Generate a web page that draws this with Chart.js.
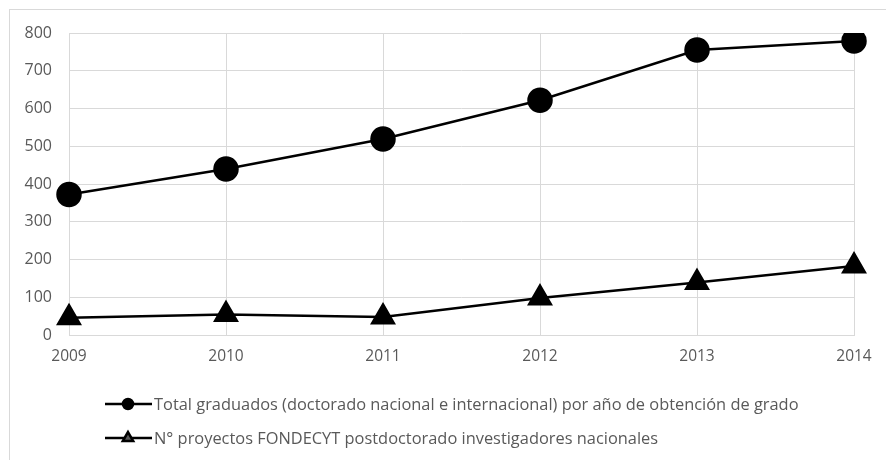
<!DOCTYPE html>
<html>
<head>
<meta charset="utf-8">
<script src="https://cdn.jsdelivr.net/npm/chart.js@4.4.1/dist/chart.umd.min.js"></script>
<style>
  html, body { margin: 0; padding: 0; background: #fff; }
  #wrap { width: 886px; height: 460px; position: relative; }
</style>
</head>
<body>
<div id="wrap"><canvas id="graduadosChart" width="886" height="460"></canvas></div>
<script>
const years = ['2009', '2010', '2011', '2012', '2013', '2014'];
const totalGraduados = [372, 440, 519, 622, 755, 779];
const proyectosFondecyt = [46, 54, 48, 98, 139, 183];
const yTicks = [0, 100, 200, 300, 400, 500, 600, 700, 800];

const labelFont = '"Open Sans", "Noto Sans", sans-serif';

// gray frame around the whole figure
const framePlugin = {
    id: 'frame',
    beforeDraw(chart) {
        const ctx = chart.ctx;
        ctx.save();
        ctx.fillStyle = '#fff';
        ctx.fillRect(0, 0, chart.width, chart.height);
        ctx.strokeStyle = '#d9d9d9';
        ctx.lineWidth = 1;
        ctx.strokeRect(9.5, 9.5, chart.width + 20, chart.height + 20);
        ctx.restore();
    }
};

// legend below the plot, one entry per row
const rowLegend = {
    id: 'rowLegend',
    afterDraw(chart) {
        const ctx = chart.ctx;
        const rows = [404, 438];
        ctx.save();
        chart.data.datasets.forEach((ds, i) => {
            const y = rows[i];
            ctx.strokeStyle = '#000';
            ctx.lineWidth = 2.5;
            ctx.beginPath();
            ctx.moveTo(105, y);
            ctx.lineTo(152, y);
            ctx.stroke();
            Chart.helpers.drawPoint(ctx, {
                pointStyle: ds.pointStyle,
                radius: ds.pointStyle === 'circle' ? 5 : 6,
                borderWidth: 1
            }, 128, y);
            ctx.fillStyle = '#595959';
            ctx.font = '16.4px ' + labelFont;
            ctx.textBaseline = 'middle';
            ctx.textAlign = 'left';
            ctx.fillText(ds.label, 154, y + 1);
        });
        ctx.restore();
    }
};

new Chart(document.getElementById('graduadosChart').getContext('2d'), {
    type: 'line',
    data: {
        labels: years,
        datasets: [
            {
                label: 'Total graduados (doctorado nacional e internacional) por año de obtención de grado',
                data: totalGraduados,
                borderColor: '#000',
                backgroundColor: '#000',
                borderWidth: 2.5,
                pointStyle: 'circle',
                pointRadius: 11.5,
                pointHoverRadius: 11.5,
                tension: 0
            },
            {
                label: 'N° proyectos FONDECYT postdoctorado investigadores nacionales',
                data: proyectosFondecyt,
                borderColor: '#000',
                backgroundColor: '#000',
                borderWidth: 2.5,
                pointStyle: 'triangle',
                pointRadius: 12.5,
                pointHoverRadius: 12.5,
                tension: 0
            }
        ]
    },
    options: {
        responsive: false,
        animation: false,
        layout: { padding: { top: 33, right: 32, bottom: 92, left: 0 } },
        plugins: {
            legend: { display: false },
            tooltip: { enabled: false }
        },
        scales: {
            x: {
                offset: false,
                grid: { color: '#d9d9d9', drawTicks: false },
                border: { color: '#d9d9d9' },
                afterFit(scale) { scale.height = 33; },
                ticks: {
                    padding: 12,
                    color: '#595959',
                    font: { family: labelFont, size: 15.5 },
                    maxRotation: 0
                }
            },
            y: {
                min: 0,
                max: 800,
                afterBuildTicks(scale) {
                    scale.ticks = yTicks.map(v => ({ value: v }));
                },
                afterFit(scale) { scale.width = 69; },
                grid: { color: '#d9d9d9', drawTicks: false },
                border: { display: false },
                ticks: {
                    padding: 17,
                    color: '#595959',
                    font: { family: labelFont, size: 16 }
                }
            }
        }
    },
    plugins: [framePlugin, rowLegend]
});
</script>
</body>
</html>
